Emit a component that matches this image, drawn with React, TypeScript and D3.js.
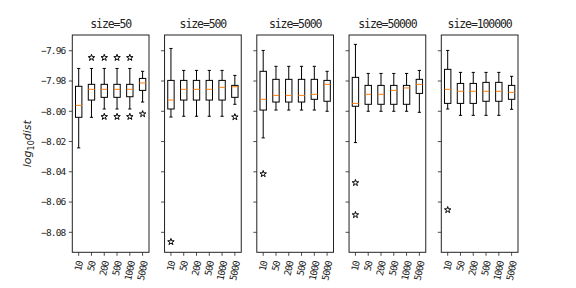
import React from 'react';
import * as d3 from 'd3';

const sizes = ['50', '500', '5000', '50000', '100000'];
const categories = ['10', '50', '200', '500', '1000', '5000'];
const yTicks = [-7.96, -7.98, -8.0, -8.02, -8.04, -8.06, -8.08];

// one row per panel (size), one value per category
const whiskerHigh = [
  [-7.9717, -7.9717, -7.9717, -7.9717, -7.9717, -7.9736],
  [-7.9585, -7.973, -7.973, -7.973, -7.973, -7.9763],
  [-7.9598, -7.9703, -7.9703, -7.9703, -7.9703, -7.9736],
  [-7.9558, -7.975, -7.975, -7.975, -7.975, -7.973],
  [-7.9598, -7.9743, -7.9743, -7.9743, -7.9743, -7.9769],
];
const q3 = [
  [-7.9835, -7.9822, -7.9822, -7.9822, -7.9822, -7.9783],
  [-7.9796, -7.9796, -7.9796, -7.9796, -7.9796, -7.9829],
  [-7.9736, -7.9789, -7.9789, -7.9789, -7.9789, -7.9796],
  [-7.9776, -7.9829, -7.9829, -7.9829, -7.9829, -7.9789],
  [-7.9723, -7.9816, -7.9816, -7.9809, -7.9809, -7.9829],
];
const median = [
  [-7.9961, -7.9855, -7.9855, -7.9855, -7.9855, -7.9813],
  [-7.9926, -7.9855, -7.9855, -7.9855, -7.9842, -7.9838],
  [-7.9921, -7.9895, -7.9895, -7.9895, -7.9888, -7.9822],
  [-7.9948, -7.9888, -7.9888, -7.9862, -7.9846, -7.9822],
  [-7.9855, -7.9868, -7.9868, -7.9868, -7.9868, -7.9875],
];
const q1 = [
  [-8.004, -7.9926, -7.9908, -7.9908, -7.9904, -7.9862],
  [-7.9985, -7.9926, -7.9926, -7.9926, -7.9926, -7.9908],
  [-7.9992, -7.9939, -7.9939, -7.9939, -7.9921, -7.9934],
  [-7.9967, -7.9954, -7.9954, -7.9954, -7.9954, -7.9882],
  [-7.9948, -7.9948, -7.9948, -7.9934, -7.9934, -7.9921],
];
const whiskerLow = [
  [-8.0242, -8.004, -7.9985, -7.9985, -7.9985, -7.9939],
  [-8.0038, -8.0033, -8.0033, -8.0033, -8.0033, -7.9954],
  [-8.0176, -7.9992, -7.9992, -7.9992, -7.9992, -8.0],
  [-8.0207, -8.0, -8.0, -8.0, -8.0, -8.0007],
  [-7.9985, -8.0027, -8.0027, -8.0027, -8.0027, -7.9987],
];
// outliers: [panel, category index, value]
const outliers: [number, number, number][] = [
  [0, 1, -7.9646],
  [0, 2, -7.9646], [0, 2, -8.0036],
  [0, 3, -7.9646], [0, 3, -8.0036],
  [0, 4, -7.9646], [0, 4, -8.0036],
  [0, 5, -8.0018],
  [1, 0, -8.0863],
  [1, 5, -8.0038],
  [2, 0, -8.0414],
  [3, 0, -8.0473], [3, 0, -8.0685],
  [4, 0, -8.0652],
];

const W = 576;
const H = 288;
const top = 35;
const bottom = 252.3;
const firstLeft = 72.3;
const panelW = 76.7;
const panelStep = 92.25;
const mono = '"DejaVu Sans Mono", monospace';

const y = d3.scaleLinear().domain([-8.0932, -7.9496]).range([bottom, top]);
const star = d3.symbol(d3.symbolStar, 13)() as string;

const Panel = ({ p }: { p: number }) => {
  const left = firstLeft + p * panelStep;
  const x = d3.scaleLinear().domain([0.5, 6.5]).range([left, left + panelW]);
  const boxHalf = (x(1.25) - x(1)) ;
  const capHalf = boxHalf / 2;
  return (
    <g>
      <text x={left + panelW / 2} y={28} textAnchor="middle" fontFamily={mono}
        fontSize={11.5} letterSpacing={-1.1} fill="#222">{`size=${sizes[p]}`}</text>
      {yTicks.map(t => (
        <g key={t}>
          <line x1={left - 3.5} x2={left} y1={y(t)} y2={y(t)} stroke="#222" strokeWidth={0.8} />
          {p === 0 && (
            <text x={left - 7} y={y(t)} dy="0.35em" textAnchor="end" fontFamily={mono}
              fontSize={9.5} letterSpacing={-0.9} fill="#222">{t.toFixed(2).replace('-', '\u2212')}</text>
          )}
        </g>
      ))}
      {categories.map((c, i) => {
        const cx = x(i + 1);
        const a = 78 * Math.PI / 180;
        const w = c.length * 4.8;
        const rh = w * Math.sin(a) + 7 * Math.cos(a);
        return (
          <g key={c}>
            <line x1={cx} x2={cx} y1={bottom} y2={bottom + 3.5} stroke="#222" strokeWidth={0.8} />
            <text transform={`translate(${cx},${bottom + 8.5 + rh / 2}) rotate(-78)`} textAnchor="middle"
              dy="0.35em" fontFamily={mono} fontSize={9.5} letterSpacing={-0.9} fill="#222">{c}</text>
          </g>
        );
      })}
      {categories.map((c, i) => {
        const cx = x(i + 1);
        return (
          <g key={'b' + c} fill="none" stroke="#000" strokeWidth={1}>
            <line x1={cx} x2={cx} y1={y(whiskerHigh[p][i])} y2={y(q3[p][i])} />
            <line x1={cx} x2={cx} y1={y(q1[p][i])} y2={y(whiskerLow[p][i])} />
            <line x1={cx - capHalf} x2={cx + capHalf} y1={y(whiskerHigh[p][i])} y2={y(whiskerHigh[p][i])} />
            <line x1={cx - capHalf} x2={cx + capHalf} y1={y(whiskerLow[p][i])} y2={y(whiskerLow[p][i])} />
            <rect x={cx - boxHalf} y={y(q3[p][i])} width={boxHalf * 2} height={y(q1[p][i]) - y(q3[p][i])} />
            <line x1={cx - boxHalf} x2={cx + boxHalf} y1={y(median[p][i])} y2={y(median[p][i])} stroke="#ff7f0e" />
          </g>
        );
      })}
      {outliers.filter(o => o[0] === p).map((o, k) => (
        <path key={k} d={star} transform={`translate(${x(o[1] + 1)},${y(o[2])})`}
          fill="none" stroke="#000" strokeWidth={1} />
      ))}
      <rect x={left} y={top} width={panelW} height={bottom - top} fill="none" stroke="#222" strokeWidth={1} />
    </g>
  );
};

export default function App() {
  return (
    <svg width={W} height={H} style={{ position: 'absolute', left: 0, top: 0, background: '#fff' }}>
      {sizes.map((s, p) => <Panel key={s} p={p} />)}
      <text transform={`translate(31,${(top + bottom) / 2}) rotate(-90)`} textAnchor="middle"
        fontFamily='"DejaVu Sans", sans-serif' fontSize={11} fontStyle="italic" fill="#222">
        log<tspan fontSize={8} dy={3} fontStyle="normal">10</tspan><tspan dy={-3}>dist</tspan>
      </text>
    </svg>
  );
}
